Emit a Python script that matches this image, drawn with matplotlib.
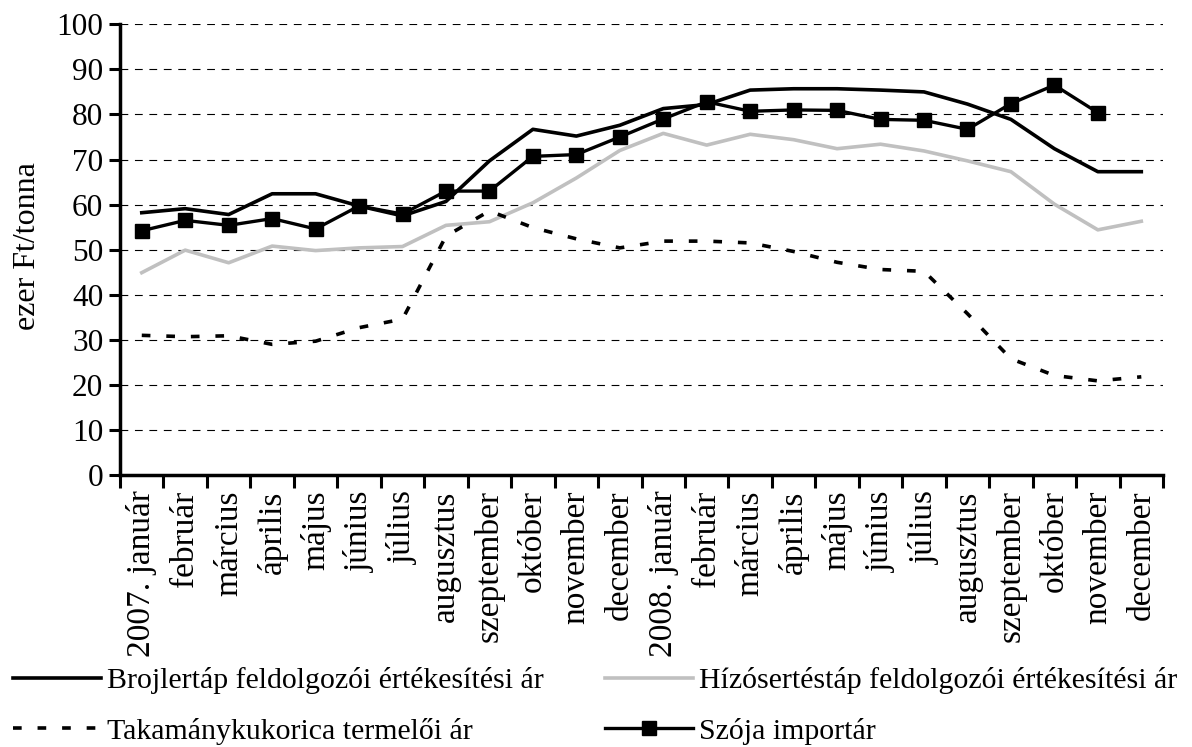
import matplotlib
matplotlib.use("Agg")
import matplotlib.pyplot as plt
import numpy as np
from matplotlib.lines import Line2D

plt.rcParams["font.family"] = ["Liberation Serif", "DejaVu Serif"]

# Adatok (ezer Ft/tonna)
months = ["2007. január", "február", "március", "április", "május", "június",
          "július", "augusztus", "szeptember", "október", "november", "december",
          "2008. január", "február", "március", "április", "május", "június",
          "július", "augusztus", "szeptember", "október", "november", "december"]

brojler = [58.2, 59.1, 57.8, 62.4, 62.4, 59.7, 57.5, 60.7, 69.7, 76.7, 75.2, 77.6,
           81.3, 82.2, 85.4, 85.7, 85.7, 85.4, 85.0, 82.3, 78.9, 72.4, 67.3, 67.3]
hizo = [44.9, 49.9, 47.1, 50.8, 49.8, 50.4, 50.7, 55.4, 56.2, 60.4, 65.9, 72.0,
        75.8, 73.2, 75.6, 74.4, 72.4, 73.4, 71.9, 69.7, 67.3, 60.1, 54.4, 56.3]
kukorica = [31.0, 30.7, 30.9, 29.0, 29.7, 32.7, 34.6, 53.0, 58.6, 54.9, 52.4, 50.4,
            51.9, 51.9, 51.5, 49.6, 47.2, 45.6, 45.2, 35.8, 25.8, 22.1, 20.9, 21.8]
szoja = [54.2, 56.5, 55.4, 56.9, 54.6, 59.7, 57.9, 63.0, 63.0, 70.7, 71.1, 75.0,
         79.0, 82.8, 80.7, 81.0, 80.9, 78.9, 78.7, 76.7, 82.4, 86.5, 80.4, np.nan]

labels = ["Brojlertáp feldolgozói értékesítési ár",
          "Hízósertéstáp feldolgozói értékesítési ár",
          "Takamánykukorica termelői ár",
          "Szója importár"]

fig = plt.figure(figsize=(11.92, 7.47), dpi=100)
ax = fig.add_axes([0.1007, 0.364, 0.875, 0.6035])

x = np.arange(len(months))
ax.plot(x, brojler, color="black", lw=2.6, zorder=4)
ax.plot(x, hizo, color="#c0c0c0", lw=2.6, zorder=3)
ax.plot(x, kukorica, color="black", lw=2.6, linestyle=(0, (2.4, 4.4)), zorder=3)
ax.plot(x, szoja, color="black", lw=2.4, marker="s", markersize=10, zorder=5)

ax.set_xlim(-0.5, len(months) - 0.5)
ax.set_ylim(0, 100)
ax.set_yticks(np.arange(0, 101, 10))
for v in range(10, 101, 10):
    ax.axhline(v, color="black", lw=0.8, linestyle=(0, (7, 6)), zorder=1)

# kategóriahatárokon a jelölők, középen a feliratok
ax.set_xticks(np.arange(-0.5, len(months), 1.0))
ax.set_xticklabels([])
ax.set_xticks(x, minor=True)
ax.set_xticklabels(months, minor=True, rotation=90, fontsize=24, va="top", ha="center")
ax.tick_params(axis="x", which="major", length=9, width=2.2, direction="out")
ax.tick_params(axis="x", which="minor", length=0, pad=11)
ax.tick_params(axis="y", length=8, width=2.2, labelsize=22.5, pad=4)

for s in ("top", "right"):
    ax.spines[s].set_visible(False)
for s in ("left", "bottom"):
    ax.spines[s].set_linewidth(2.5)

ax.set_ylabel("ezer Ft/tonna", fontsize=23)
ax.yaxis.set_label_coords(-0.075, 0.507)

handles = [
    Line2D([], [], color="black", lw=2.6),
    Line2D([], [], color="#c0c0c0", lw=2.6),
    Line2D([], [], color="black", lw=2.6, linestyle=(0, (2.4, 4.4))),
    Line2D([], [], color="black", lw=2.4, marker="s", markersize=10),
]
order = [0, 2, 1, 3]
fig.legend([handles[i] for i in order], [labels[i] for i in order],
           ncol=2, loc="lower left", bbox_to_anchor=(0.001, -0.013),
           frameon=False, fontsize=21.5, handlelength=2.95, handletextpad=0.2,
           columnspacing=2.05, labelspacing=0.78, borderaxespad=0)

fig.savefig("out.png", dpi=100)
